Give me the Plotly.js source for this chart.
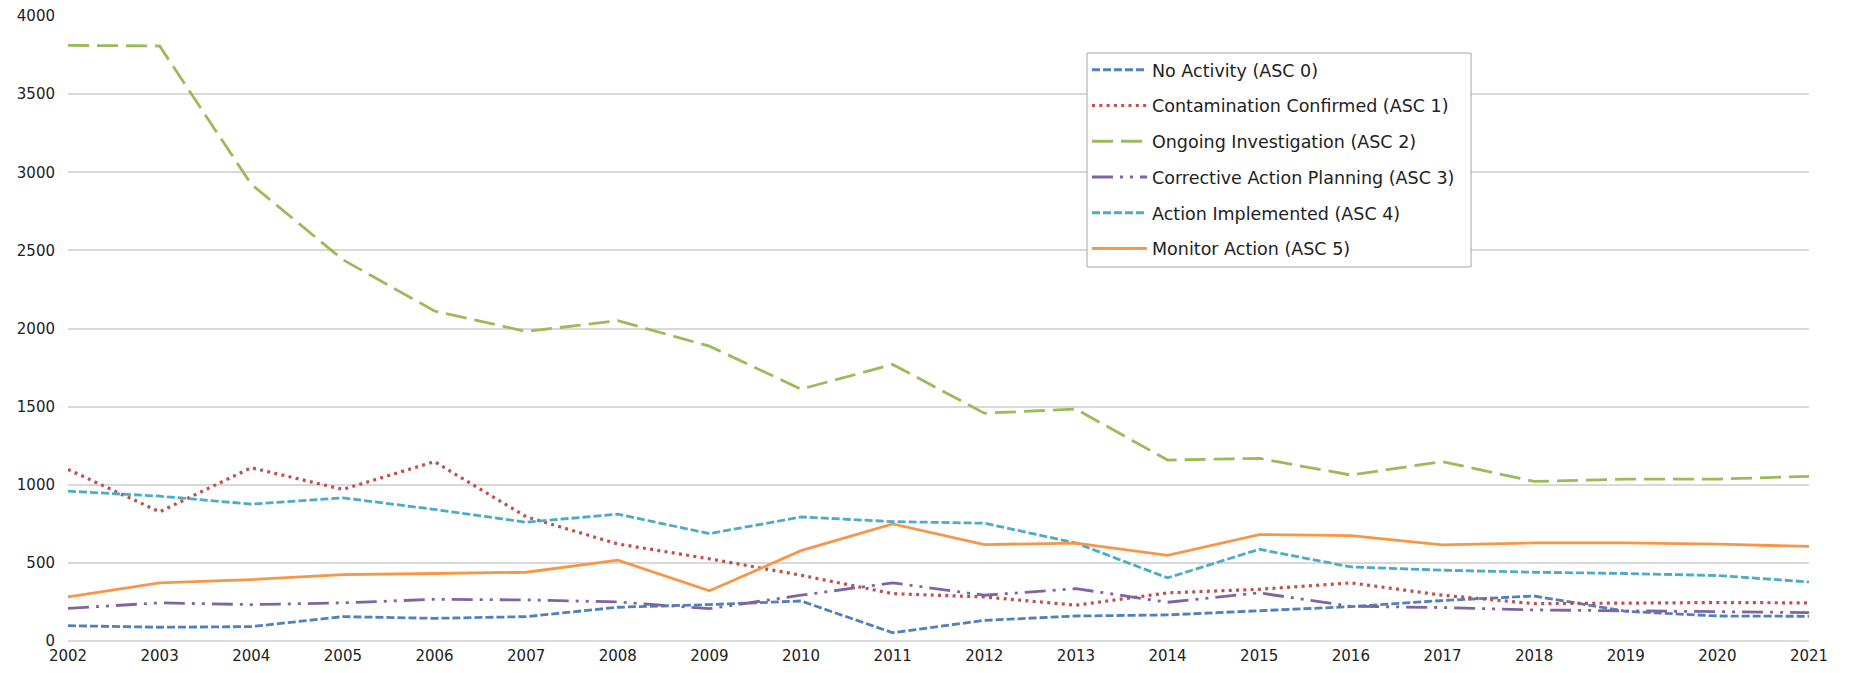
<!DOCTYPE html>
<html>
<head>
<meta charset="utf-8">
<script src="https://cdn.plot.ly/plotly-3.0.1.min.js"></script>
<style>
html, body { margin: 0; padding: 0; background: #ffffff; }
#chart { width: 1854px; height: 673px; }
</style>
</head>
<body>
<div id="chart"></div>
<script>
// ---- Data ----
var years = [2002, 2003, 2004, 2005, 2006, 2007, 2008, 2009, 2010, 2011,
             2012, 2013, 2014, 2015, 2016, 2017, 2018, 2019, 2020, 2021];

var seriesNames = [
  "No Activity (ASC 0)",
  "Contamination Confirmed (ASC 1)",
  "Ongoing Investigation (ASC 2)",
  "Corrective Action Planning (ASC 3)",
  "Action Implemented (ASC 4)",
  "Monitor Action (ASC 5)"
];

var noActivity = [98, 88, 92, 156, 145, 156, 216, 233, 256, 53,
                  132, 160, 167, 194, 220, 259, 288, 190, 160, 158];
var contaminationConfirmed = [1098, 827, 1109, 970, 1148, 795, 621, 526, 421, 303,
                              282, 229, 308, 331, 372, 293, 239, 244, 246, 244];
var ongoingInvestigation = [3812, 3808, 2923, 2440, 2112, 1981, 2050, 1887, 1612, 1770,
                            1458, 1484, 1158, 1169, 1062, 1148, 1021, 1036, 1036, 1054];
var correctiveActionPlanning = [209, 244, 233, 244, 267, 263, 250, 207, 293, 372,
                                293, 335, 248, 308, 222, 214, 199, 192, 186, 182];
var actionImplemented = [959, 927, 876, 916, 842, 760, 812, 687, 794, 764,
                         754, 627, 404, 587, 474, 453, 440, 432, 419, 378];
var monitorAction = [282, 372, 393, 425, 432, 440, 517, 321, 578, 749,
                     617, 627, 548, 681, 675, 615, 628, 628, 620, 605];

var yTickVals = [0, 500, 1000, 1500, 2000, 2500, 3000, 3500, 4000];

// ---- Styles ----
var seriesValues = [noActivity, contaminationConfirmed, ongoingInvestigation,
                    correctiveActionPlanning, actionImplemented, monitorAction];
var colors = ["#4F81BD", "#C0504D", "#9BBB59", "#8064A2", "#4BACC6", "#F79646"];
var widths = [2.8, 3.2, 2.8, 2.8, 2.8, 2.8];
var dashes = ["8px,3px", "3px,4.3px", "21px,8px",
              "21px,7px,3px,7px,3px,7px", "8px,3px", "solid"];
var FONT = "Verdana, 'DejaVu Sans', sans-serif";

var traces = seriesValues.map(function (vals, i) {
  return {
    type: "scatter",
    mode: "lines",
    x: years,
    y: vals,
    name: seriesNames[i],
    legendgroup: "g" + i,
    line: { color: colors[i], width: widths[i], dash: dashes[i] },
    hoverinfo: "x+y+name"
  };
});

// legend frame (paper fractions)
var legendFrame = { x0: 0.5853, x1: 0.8059, y0: 0.5984, y1: 0.9408 };

var layout = {
  width: 1854,
  height: 673,
  paper_bgcolor: "#ffffff",
  plot_bgcolor: "#ffffff",
  margin: { l: 68, r: 45, t: 16, b: 32, pad: 0, autoexpand: false },
  font: { family: FONT, size: 15, color: "#222222" },
  showlegend: true,
  legend: {
    x: legendFrame.x0, y: legendFrame.y1 + 0.0018, xanchor: "left", yanchor: "top",
    bgcolor: "rgba(0,0,0,0)",
    borderwidth: 0,
    font: { family: FONT, size: 17.5, color: "#222222" },
    traceorder: "grouped",
    tracegroupgap: 10,
    itemwidth: 55
  },
  shapes: [{
    type: "rect", xref: "paper", yref: "paper", layer: "above",
    x0: legendFrame.x0, x1: legendFrame.x1, y0: legendFrame.y0, y1: legendFrame.y1,
    fillcolor: "#ffffff",
    line: { color: "#a6a6a6", width: 1 }
  }],
  xaxis: {
    type: "linear",
    range: [2002, 2021],
    tickmode: "array",
    tickvals: years,
    ticktext: years.map(String),
    showgrid: false,
    zeroline: false,
    showline: false,
    ticks: "",
    ticklabelstandoff: 4,
    tickfont: { family: FONT, size: 15, color: "#222222" },
    automargin: false,
    fixedrange: true
  },
  yaxis: {
    range: [0, 4000],
    tickmode: "array",
    tickvals: yTickVals,
    ticktext: yTickVals.map(String),
    showgrid: true,
    gridcolor: "#d9d9d9",
    gridwidth: 1.5,
    zeroline: true,
    zerolinecolor: "#d9d9d9",
    zerolinewidth: 1.5,
    showline: false,
    ticks: "",
    ticklabelstandoff: 12,
    tickfont: { family: FONT, size: 15, color: "#222222" },
    automargin: false,
    fixedrange: true
  }
};

Plotly.newPlot("chart", traces, layout, { displayModeBar: false, responsive: false });
</script>
</body>
</html>
